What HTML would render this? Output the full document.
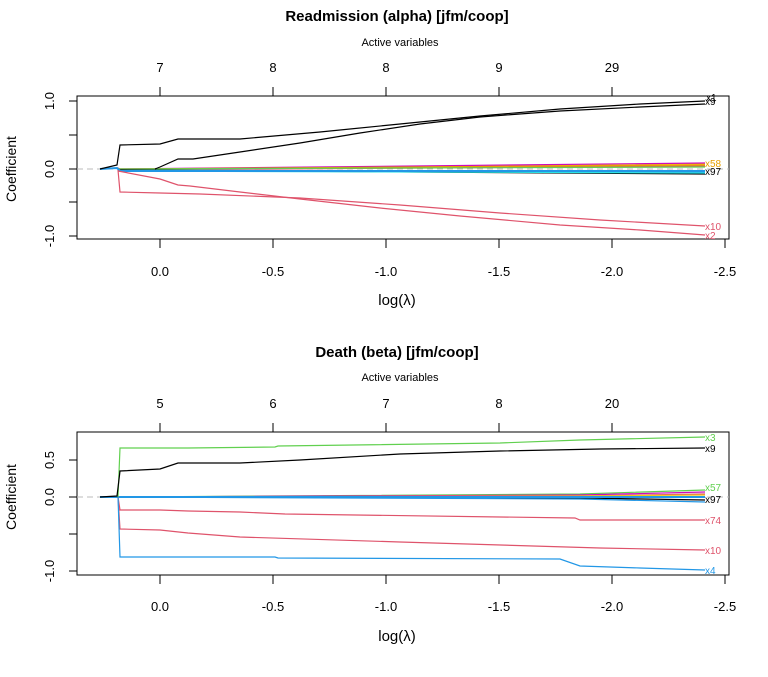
<!DOCTYPE html>
<html><head><meta charset="utf-8"><style>
body{margin:0;background:#fff}
svg text{font-family:"Liberation Sans",Arial,sans-serif}
</style></head><body>
<svg width="768" height="672" viewBox="0 0 768 672" xmlns="http://www.w3.org/2000/svg">
<g font-size="13" fill="#000">
<!-- Panel 1 -->
<text x="397" y="21" text-anchor="middle" font-weight="bold" font-size="15">Readmission (alpha)  [jfm/coop]</text>
<text x="400" y="46" text-anchor="middle" font-size="11">Active variables</text>
<g text-anchor="middle"><text x="160" y="72">7</text><text x="273" y="72">8</text><text x="386" y="72">8</text><text x="499" y="72">9</text><text x="612" y="72">29</text></g>
<g stroke="#000" fill="none">
<rect x="77" y="96" width="652" height="143"/>
<path d="M160 96V87M273 96V87M386 96V87M499 96V87M612 96V87M160 96H612"/>
<path d="M77 101H69M77 135H69M77 169H69M77 202H69M77 236H69M77 101V236"/>
<path d="M160 239V248M273 239V248M386 239V248M499 239V248M612 239V248M725 239V248M160 239H725"/>
</g>
<g text-anchor="middle"><text x="160" y="276">0.0</text><text x="273" y="276">-0.5</text><text x="386" y="276">-1.0</text><text x="499" y="276">-1.5</text><text x="612" y="276">-2.0</text><text x="725" y="276">-2.5</text></g>
<g text-anchor="middle"><text transform="translate(54,101) rotate(-90)">1.0</text><text transform="translate(54,169) rotate(-90)">0.0</text><text transform="translate(54,236) rotate(-90)">-1.0</text></g>
<text transform="translate(16,169) rotate(-90)" text-anchor="middle" font-size="14">Coefficient</text>
<text x="397" y="305" text-anchor="middle" font-size="15">log(λ)</text>
<line x1="77" y1="169" x2="729" y2="169" stroke="#bbb" stroke-dasharray="6,4"/>
<g fill="none" stroke-width="1.2">
<path d="M100 169L118 168L122 170L705 166" stroke="#DF536B"/>
<path d="M118 169L300 168L705 164" stroke="#F5C710"/>
<path d="M118 169L705 163" stroke="#CD0BBC"/>
<path d="M118 169L705 165" stroke="#E69F00"/>
<path d="M118 169L705 167" stroke="#61D04F"/>
<path d="M118 170L705 172" stroke="#2297E6"/>
<path d="M118 170L705 174" stroke="#000"/>
<path d="M118 171L705 173" stroke="#28E2E5"/>
<path d="M100 169L117 168L120 171L705 171" stroke="#2297E6" stroke-width="2"/>
<path d="M100 169L117 165L120 145L160 144L178 139L240 139L320 132L400 124L480 116L560 109L640 104L705 101" stroke="#000"/>
<path d="M155 169L160 167L178 159L193 159L240 152L300 143L360 133L420 124L480 117L560 111L640 107L705 104" stroke="#000"/>
<path d="M118 170L120 192L160 193L200 194L300 198L400 205L500 213L600 220L705 226" stroke="#DF536B"/>
<path d="M118 171L160 179L178 185L190 186L240 192L300 199L380 208L460 216L560 225L640 230L705 235" stroke="#DF536B"/>
</g>
<g font-size="10"><text x="705" y="105">x9</text><text x="706" y="101">x1</text><text x="705" y="167" fill="#E69F00">x58</text><text x="705" y="175">x97</text><text x="705" y="230" fill="#DF536B">x10</text><text x="705" y="239" fill="#DF536B">x2</text></g>

<!-- Panel 2 -->
<text x="397" y="357" text-anchor="middle" font-weight="bold" font-size="15">Death (beta)  [jfm/coop]</text>
<text x="400" y="381" text-anchor="middle" font-size="11">Active variables</text>
<g text-anchor="middle"><text x="160" y="408">5</text><text x="273" y="408">6</text><text x="386" y="408">7</text><text x="499" y="408">8</text><text x="612" y="408">20</text></g>
<g stroke="#000" fill="none">
<rect x="77" y="432" width="652" height="143"/>
<path d="M160 432V423M273 432V423M386 432V423M499 432V423M612 432V423M160 432H612"/>
<path d="M77 460H69M77 497H69M77 534H69M77 571H69M77 460V571"/>
<path d="M160 575V584M273 575V584M386 575V584M499 575V584M612 575V584M725 575V584M160 575H725"/>
</g>
<g text-anchor="middle"><text x="160" y="611">0.0</text><text x="273" y="611">-0.5</text><text x="386" y="611">-1.0</text><text x="499" y="611">-1.5</text><text x="612" y="611">-2.0</text><text x="725" y="611">-2.5</text></g>
<g text-anchor="middle"><text transform="translate(54,460) rotate(-90)">0.5</text><text transform="translate(54,497) rotate(-90)">0.0</text><text transform="translate(54,571) rotate(-90)">-1.0</text></g>
<text transform="translate(16,497) rotate(-90)" text-anchor="middle" font-size="14">Coefficient</text>
<text x="397" y="641" text-anchor="middle" font-size="15">log(λ)</text>
<line x1="77" y1="497" x2="729" y2="497" stroke="#bbb" stroke-dasharray="6,4"/>
<g fill="none" stroke-width="1.2">
<path d="M118 497L275 496L580 494L705 490" stroke="#61D04F"/>
<path d="M118 497L580 495L705 492" stroke="#CD0BBC"/>
<path d="M118 497L580 496L705 494" stroke="#DF536B"/>
<path d="M118 497L580 496L705 495" stroke="#F5C710"/>
<path d="M118 497L580 498L705 500" stroke="#000"/>
<path d="M118 497L580 499L705 502" stroke="#2297E6"/>
<path d="M100 497L117 497L120 497L705 497" stroke="#2297E6" stroke-width="2"/>
<path d="M118 497L120 448L188 448L275 447L278 446L500 443L580 440L705 437" stroke="#61D04F"/>
<path d="M100 497L117 496L120 471L160 469L178 463L240 463L300 460L400 454L500 451L600 449L705 448" stroke="#000"/>
<path d="M118 497L120 510L160 510L188 511L240 512L285 514L575 518L580 520L705 520" stroke="#DF536B"/>
<path d="M118 497L120 529L160 530L188 533L240 537L400 542L600 548L705 550" stroke="#DF536B"/>
<path d="M118 497L120 557L275 557L278 558L560 559L580 566L640 568L705 570" stroke="#2297E6"/>
</g>
<g font-size="10"><text x="705" y="441" fill="#61D04F">x3</text><text x="705" y="452">x9</text><text x="705" y="491" fill="#61D04F">x57</text><text x="705" y="503">x97</text><text x="705" y="524" fill="#DF536B">x74</text><text x="705" y="554" fill="#DF536B">x10</text><text x="705" y="574" fill="#2297E6">x4</text></g>
</g>
</svg>
</body></html>
